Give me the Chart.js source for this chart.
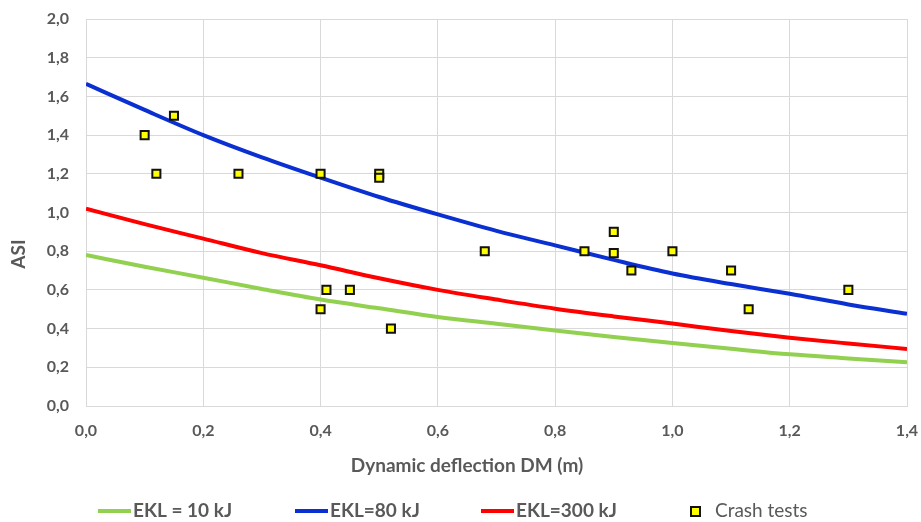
<!DOCTYPE html>
<html>
<head>
<meta charset="utf-8">
<script src="https://cdn.jsdelivr.net/npm/chart.js@4/dist/chart.umd.min.js"></script>
<style>
  html, body { margin: 0; padding: 0; background: #fff; }
  #wrap { width: 921px; height: 522px; }
</style>
</head>
<body>
<div id="wrap"><canvas id="asi-chart" width="921" height="522"></canvas></div>
<script>
    "use strict";

    // Curve samples (DM in m -> ASI)
    var dmSteps = [0.0, 0.1, 0.2, 0.3, 0.4, 0.5, 0.6, 0.7, 0.8, 0.9, 1.0, 1.1, 1.2, 1.3, 1.4];
    var asiEkl10 = [0.78, 0.72, 0.663, 0.605, 0.55, 0.505, 0.46, 0.425, 0.39, 0.357, 0.326, 0.296, 0.267, 0.246, 0.226];
    var asiEkl80 = [1.665, 1.53, 1.40, 1.285, 1.18, 1.08, 0.99, 0.905, 0.83, 0.755, 0.685, 0.63, 0.58, 0.525, 0.477];
    var asiEkl300 = [1.02, 0.94, 0.865, 0.79, 0.727, 0.66, 0.60, 0.55, 0.503, 0.463, 0.426, 0.388, 0.353, 0.323, 0.295];

    // Crash tests
    var testDm = [0.10, 0.15, 0.12, 0.26, 0.40, 0.50, 0.50, 0.40, 0.41, 0.45, 0.52, 0.68, 0.85, 0.90, 0.90, 0.93, 1.00, 1.10, 1.13, 1.30];
    var testAsi = [1.40, 1.50, 1.20, 1.20, 1.20, 1.20, 1.18, 0.50, 0.60, 0.60, 0.40, 0.80, 0.80, 0.90, 0.79, 0.70, 0.80, 0.70, 0.50, 0.60];

    var xTicks = [0, 0.2, 0.4, 0.6, 0.8, 1.0, 1.2, 1.4];
    var yTicks = [0, 0.2, 0.4, 0.6, 0.8, 1.0, 1.2, 1.4, 1.6, 1.8, 2.0];

    var TEXT = '#595959';
    var GRID = '#d9d9d9';
    var FONT = 'Lato, "Open Sans", sans-serif';

    function toPoints(xs, ys) {
        return xs.map(function (x, i) { return {x: x, y: ys[i]}; });
    }

    function comma(v) {
        return Number(v).toFixed(1).replace('.', ',');
    }

    // Axis titles and legend, drawn where the original has them
    var extras = {
        id: 'extras',
        afterDraw: function (chart) {
            var ctx = chart.ctx;
            ctx.save();
            ctx.fillStyle = TEXT;
            ctx.font = 'bold 19px ' + FONT;
            ctx.textAlign = 'center';
            ctx.textBaseline = 'middle';
            ctx.fillText('Dynamic deflection DM (m)', 467, 466);

            ctx.translate(19, 254);
            ctx.rotate(-Math.PI / 2);
            ctx.fillText('ASI', 0, 0);
            ctx.restore();

            // legend
            var legendX = [98, 295, 481, 690];
            var order = [1, 2, 3, 0];
            var ly = 511;
            ctx.save();
            ctx.textBaseline = 'middle';
            ctx.textAlign = 'left';
            order.forEach(function (idx, k) {
                var ds = chart.data.datasets[idx];
                var x0 = legendX[k];
                if (ds.showLine) {
                    ctx.strokeStyle = ds.borderColor;
                    ctx.lineWidth = 4;
                    ctx.beginPath();
                    ctx.moveTo(x0, ly);
                    ctx.lineTo(x0 + 33, ly);
                    ctx.stroke();
                    ctx.fillStyle = TEXT;
                    ctx.font = 'bold 19px ' + FONT;
                    ctx.fillText(ds.label, x0 + 35, ly);
                } else {
                    ctx.fillStyle = ds.backgroundColor;
                    ctx.strokeStyle = ds.borderColor;
                    ctx.lineWidth = 2;
                    ctx.fillRect(x0 + 1, ly - 4, 9, 9);
                    ctx.strokeRect(x0 + 1, ly - 4, 9, 9);
                    ctx.fillStyle = TEXT;
                    ctx.font = '19px ' + FONT;
                    ctx.fillText(ds.label, x0 + 25, ly);
                }
            });
            ctx.restore();
        }
    };

    var ctx1 = document.getElementById('asi-chart').getContext('2d');
    var asiChart = new Chart(ctx1, {
        type: 'scatter',
        data: {
            datasets: [
                {
                    label: 'Crash tests',
                    data: toPoints(testDm, testAsi),
                    pointStyle: 'rect',
                    pointRadius: 5.7,
                    pointHoverRadius: 5.7,
                    backgroundColor: '#ffff00',
                    borderColor: '#111111',
                    borderWidth: 2,
                    order: 0
                },
                {
                    label: 'EKL = 10 kJ',
                    data: toPoints(dmSteps, asiEkl10),
                    showLine: true,
                    borderColor: '#92d050',
                    borderWidth: 4,
                    pointRadius: 0,
                    cubicInterpolationMode: 'monotone',
                    order: 1
                },
                {
                    label: 'EKL=80 kJ',
                    data: toPoints(dmSteps, asiEkl80),
                    showLine: true,
                    borderColor: '#0a30d2',
                    borderWidth: 4,
                    pointRadius: 0,
                    cubicInterpolationMode: 'monotone',
                    order: 1
                },
                {
                    label: 'EKL=300 kJ',
                    data: toPoints(dmSteps, asiEkl300),
                    showLine: true,
                    borderColor: '#ff0000',
                    borderWidth: 4,
                    pointRadius: 0,
                    cubicInterpolationMode: 'monotone',
                    order: 1
                }
            ]
        },
        options: {
            responsive: false,
            animation: false,
            layout: {padding: {left: 0, right: 14, top: 19, bottom: 0}},
            plugins: {
                legend: {display: false},
                tooltip: {enabled: false}
            },
            scales: {
                x: {
                    type: 'linear',
                    min: 0,
                    max: 1.4,
                    afterFit: function (scale) {
                        scale.height = 116;
                        scale.paddingLeft = 0;
                        scale.paddingRight = 0;
                    },
                    afterBuildTicks: function (scale) {
                        scale.ticks = xTicks.map(function (v) { return {value: v}; });
                    },
                    grid: {color: GRID, lineWidth: 1, drawTicks: false},
                    border: {color: GRID, width: 1},
                    ticks: {
                        padding: 15,
                        color: TEXT,
                        font: {family: FONT, size: 16, weight: 'bold'},
                        maxRotation: 0,
                        callback: comma
                    }
                },
                y: {
                    type: 'linear',
                    min: 0,
                    max: 2,
                    afterFit: function (scale) {
                        scale.width = 86;
                        scale.paddingTop = 0;
                        scale.paddingBottom = 0;
                    },
                    afterBuildTicks: function (scale) {
                        scale.ticks = yTicks.map(function (v) { return {value: v}; });
                    },
                    grid: {color: GRID, lineWidth: 1, drawTicks: false},
                    border: {color: GRID, width: 1},
                    ticks: {
                        padding: 17,
                        color: TEXT,
                        font: {family: FONT, size: 16, weight: 'bold'},
                        callback: comma
                    }
                }
            }
        },
        plugins: [extras]
    });
</script>
</body>
</html>
